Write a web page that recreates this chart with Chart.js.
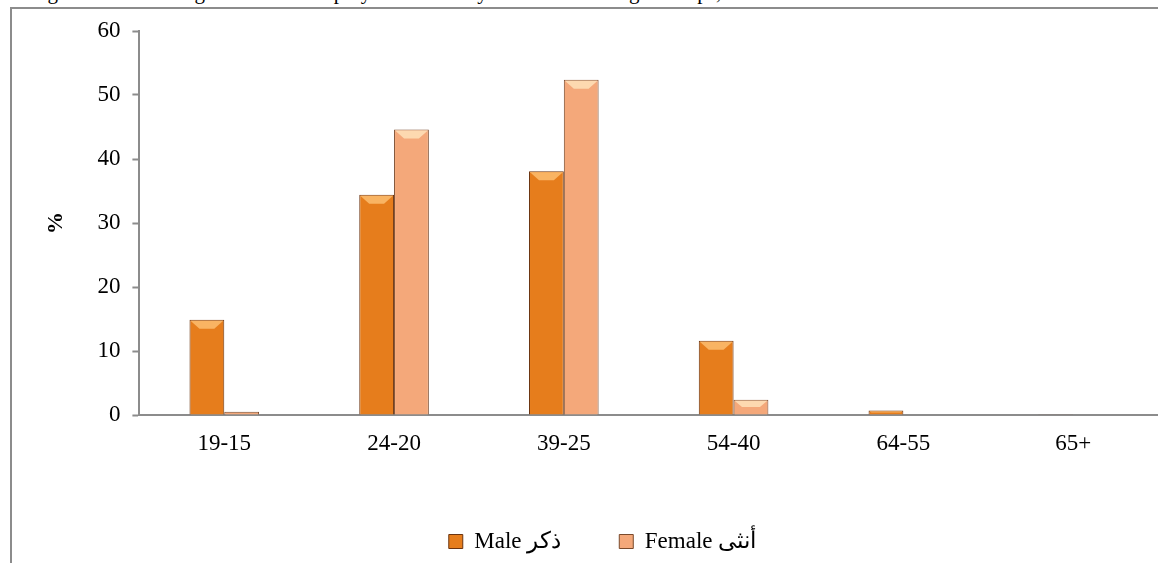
<!DOCTYPE html>
<html>
<head>
<meta charset="utf-8">
<script src="https://cdn.jsdelivr.net/npm/chart.js@4"></script>
<style>
  body { margin: 0; background: #fff; overflow: hidden; }
  #wrap { position: relative; width: 1158px; height: 563px; overflow: hidden; }
  #frame { position: absolute; left: 10px; top: 7px; width: 1200px; height: 600px;
           border-left: 2px solid #8c8c8c; border-top: 2px solid #8c8c8c; }
  #cut { position: absolute; left: 30px; top: -20px; white-space: nowrap; line-height: 24px;
         font: 21px "Liberation Serif", serif; color: #000; }
  canvas { position: absolute; left: 0; top: 0; }
</style>
</head>
<body>
<div id="wrap">
  <div id="cut">Figure 10: Percentage of Omani Employed Persons by Sex and Main Age Groups, 2010</div>
  <div id="frame"></div>
  <canvas id="myChart" width="1158" height="563"></canvas>
</div>
<script>
const ageGroups = ['19-15', '24-20', '39-25', '54-40', '64-55', '65+'];
const maleValues = [14.9, 34.4, 38.1, 11.6, 0.7, 0.1];
const femaleValues = [0.5, 44.6, 52.4, 2.4, 0.0, 0.0];
const yTicks = [0, 10, 20, 30, 40, 50, 60];

const maleColor = '#e67d1c';
const femaleColor = '#f4a87a';

// lighter bevel across the top of each bar
const bevel = {
    id: 'bevel',
    afterDatasetsDraw(chart) {
        const ctx = chart.ctx;
        chart.data.datasets.forEach((ds, i) => {
            const light = i === 0 ? '#f9b463' : '#fdd9b0';
            chart.getDatasetMeta(i).data.forEach(bar => {
                const h = bar.base - bar.y;
                if (h < 3) return;
                const left = bar.x - bar.width / 2;
                const right = bar.x + bar.width / 2;
                const b = Math.min(9, h / 2);
                ctx.save();
                ctx.fillStyle = light;
                ctx.beginPath();
                ctx.moveTo(left + 1, bar.y + 1);
                ctx.lineTo(right - 1, bar.y + 1);
                ctx.lineTo(right - 1 - b, bar.y + b);
                ctx.lineTo(left + 1 + b, bar.y + b);
                ctx.closePath();
                ctx.fill();
                ctx.restore();
            });
        });
    }
};

const getChart = document.getElementById('myChart');

new Chart(getChart, {
    type: 'bar',
    data: {
        labels: ageGroups,
        datasets: [{
            label: 'Male ذكر',
            data: maleValues,
            backgroundColor: maleColor,
            borderColor: '#6b3410',
            borderWidth: 1,
            categoryPercentage: 0.41,
            barPercentage: 1
        }, {
            label: 'Female أنثى',
            data: femaleValues,
            backgroundColor: femaleColor,
            borderColor: '#7a4a2c',
            borderWidth: 1,
            categoryPercentage: 0.41,
            barPercentage: 1
        }]
    },
    options: {
        responsive: false,
        animation: false,
        layout: { padding: { left: 39, top: 31, right: -8, bottom: 0 } },
        plugins: {
            legend: {
                position: 'bottom',
                labels: {
                    font: { family: 'Liberation Serif', size: 23 },
                    color: '#000',
                    boxWidth: 14,
                    boxHeight: 14,
                    padding: 58
                }
            },
            tooltip: { enabled: false }
        },
        scales: {
            x: {
                grid: { display: false, drawTicks: false },
                border: { color: '#8c8c8c', width: 2 },
                ticks: {
                    font: { family: 'Liberation Serif', size: 23 },
                    color: '#000',
                    padding: 15
                },
                afterFit(scale) { scale.height = 57; }
            },
            y: {
                min: 0,
                max: 60,
                afterBuildTicks(scale) { scale.ticks = yTicks.map(v => ({ value: v })); },
                grid: { drawOnChartArea: false, tickLength: 7, color: '#8c8c8c', tickWidth: 2 },
                border: { color: '#8c8c8c', width: 2 },
                ticks: {
                    font: { family: 'Liberation Serif', size: 23 },
                    color: '#000',
                    padding: 12
                },
                title: {
                    display: true,
                    text: '%',
                    font: { family: 'Liberation Serif', size: 22, weight: 'bold' },
                    color: '#000',
                    padding: { bottom: 16 }
                }
            }
        }
    },
    plugins: [bevel]
});
</script>
</body>
</html>
